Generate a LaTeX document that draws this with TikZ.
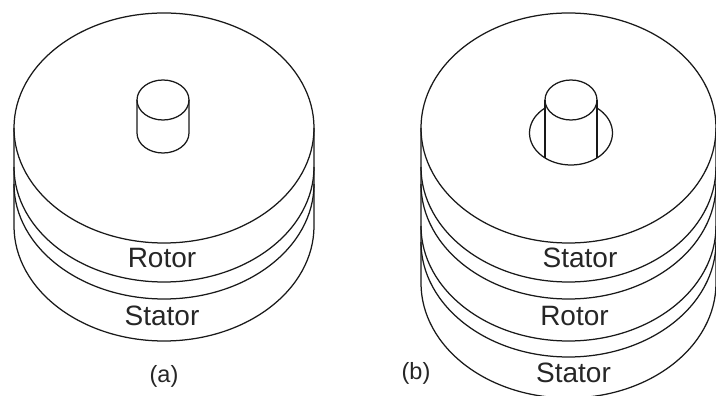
\documentclass[tikz,border=0pt]{standalone}
\usepackage{fontspec}
\setmainfont{Liberation Sans}
\tikzset{
  outline/.style={draw=black!90,line width=1.25pt},
  lbl/.style={anchor=base,inner sep=0pt,font=\fontsize{28}{32}\selectfont,text=black!85},
  figlabel/.style={anchor=base,inner sep=0pt,font=\fontsize{23.5}{27}\selectfont,text=black!85}
}
\begin{document}
\begin{tikzpicture}[x=1pt,y=1pt]
\useasboundingbox (0,0) rectangle (716,396);
\clip (0,0) rectangle (716,396);
% (a)
\draw[outline] (164,268) ellipse [x radius=150pt,y radius=115pt];
\draw[outline] (14,229) arc [start angle=180,end angle=360,x radius=150pt,y radius=115pt];
\draw[outline] (14,212) arc [start angle=180,end angle=360,x radius=150pt,y radius=115pt];
\draw[outline] (14,268) -- (14,170) arc [start angle=180,end angle=360,x radius=150pt,y radius=115pt] -- (314,268);
\draw[outline] (163,296) ellipse [x radius=26pt,y radius=20pt];
\draw[outline] (137,296) -- (137,263) arc [start angle=180,end angle=360,x radius=26pt,y radius=20pt] -- (189,296);
\node[lbl] (rotorA) at (162,128) {Rotor};
\node[lbl] (statorA) at (162,70) {Stator};
\node[figlabel] (capA) at (164,13) {(a)};
% (b)
\draw[outline] (568.5,268) ellipse [x radius=147.5pt,y radius=115pt];
\foreach \yy in {229,212,170,154}
  \draw[outline] (421,\yy) arc [start angle=180,end angle=360,x radius=147.5pt,y radius=115pt];
\draw[outline] (421,268) -- (421,113) arc [start angle=180,end angle=360,x radius=147.5pt,y radius=115pt] -- (716,268);
\draw[outline] (571,263) ellipse [x radius=41.5pt,y radius=32pt];
\fill[white] (545,296) rectangle (597,263);
\draw[outline,fill=white] (571,296) ellipse [x radius=26pt,y radius=20pt];
\draw[outline] (545,296) -- (545,238);
\draw[outline] (597,296) -- (597,238);
\node[lbl] (statorB) at (580,128) {Stator};
\node[lbl] (rotorB) at (574.5,70) {Rotor};
\node[lbl] (statorC) at (573.5,13) {Stator};
\node[figlabel] (capB) at (416,16) {(b)};
\end{tikzpicture}
\end{document}
